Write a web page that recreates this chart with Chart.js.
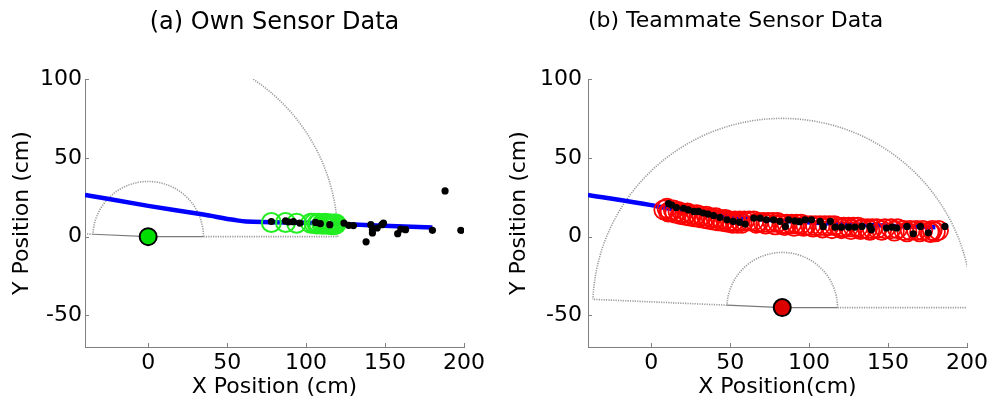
<!DOCTYPE html>
<html lang="en">
<head>
<meta charset="UTF-8">
<title>Own vs Teammate Sensor Data</title>
<script src="https://cdn.jsdelivr.net/npm/chart.js"></script>
<style>
  html, body { margin: 0; padding: 0; background: #fff; }
  canvas { position: absolute; top: 0; }
  #ownChart { left: 0; }
  #teamChart { left: 497px; }
</style>
</head>
<body>
<canvas id="ownChart" width="496" height="406"></canvas>
<canvas id="teamChart" width="496" height="406"></canvas>
<script>
// axis ticks
const xTicks = [0, 50, 100, 150, 200];
const yTicks = [-50, 0, 50, 100];

// sensor field of view (cm, degrees)
const innerRange = 35;
const outerRange = 120;
const fovAngles = [0, 177.5];

// (a) own sensor
const ownRobot = [0, 0];
const ownPathX = [-40, 0, 35, 55, 62, 100, 140, 180];
const ownPathY = [26.5, 19.5, 14, 10.5, 9.6, 8.8, 7.2, 5.8];
const ownObsX = [78, 87, 94, 103, 105, 107, 108, 110, 111, 112, 113, 114, 115, 116, 117, 118, 119];
const ownObsY = [9, 9, 8.5, 8.5, 8.5, 8, 8.5, 8, 8, 8.5, 8, 8, 8, 8, 7.5, 8, 8];
const ownDotX = [78, 87, 89, 92, 96, 106, 109, 115, 124, 127, 130, 138, 141, 142, 142, 145, 148, 149, 158, 160, 163, 180, 188, 198];
const ownDotY = [9.6, 10, 9.3, 9.5, 8.6, 9, 8.2, 7.6, 8.6, 7.2, 7, -3.3, 7.6, 4.4, 2.3, 5.5, 7.6, 8.6, 1.9, 4.8, 4.4, 4, 29, 4];

// (b) teammate sensor
const teamRobot = [83, -45];
const teamPathX = [-40, 0, 10, 70, 120, 180];
const teamPathY = [26.5, 20, 18, 11, 8, 6];
const teamObsX = [8, 10, 12, 14, 17, 20, 23, 26, 29, 32, 35, 38, 41, 44, 47, 50, 53, 56, 59, 62, 65, 68, 71, 74, 77, 80, 83, 86, 89, 92, 95, 98, 101, 104, 107, 110, 113, 116, 119, 122, 125, 128, 131, 134, 137, 140, 143, 148, 152, 156, 160, 164, 168, 172, 176, 178, 180, 182,
                  11, 15, 18.5, 21.5, 24.5, 27.5, 30.5, 33.5, 36.5, 39.5, 42.5, 45.5, 48.5, 51.5, 54.5, 57.5, 66.5, 72.5, 78.5, 84.5, 90.5, 96.5, 102.5, 108.5, 114.5, 120.5, 126.5, 132.5, 138.5, 146, 154, 162, 170, 177];
const teamObsY = [17, 18, 16, 17, 16, 15, 15, 14, 14, 13, 13, 12, 12, 11, 11, 10, 10, 10, 10, 10, 10, 9, 9, 9, 9, 9, 8, 8, 8, 8, 8, 7, 7, 7, 7, 7, 7, 7, 6, 6, 6, 6, 6, 5, 5, 5, 5, 5, 5, 5, 4, 4, 4, 4, 3, 4, 3, 4,
                  15.5, 15, 14, 13.5, 13, 12.5, 12, 11.5, 11, 10.5, 10, 9.5, 9, 8.5, 8.5, 8.5, 8.5, 8, 7.5, 7, 6.5, 6.5, 6, 5.5, 5, 5, 4.5, 4.5, 4, 4, 3.5, 3, 3, 2.5];
const teamDotX = [11, 13, 16, 20.5, 23.5, 27, 30, 33, 36, 39.5, 43.5, 48, 52, 56, 59.5, 65, 69, 73, 77.5, 81.5, 85, 87, 91, 94, 97.5, 101.5, 107, 109, 113.5, 116.5, 120.5, 125, 129, 133.5, 138.5, 139.5, 149, 152.5, 155.5, 162, 166, 170.5, 175.5, 186];
const teamDotY = [21, 20, 18.5, 18, 17, 16, 16, 15, 14.3, 13.4, 12.2, 10.7, 9.7, 9.2, 8, 11.8, 11.8, 10.7, 10.7, 9.7, 6.5, 10.7, 10, 9.5, 10.7, 10.7, 9.7, 6.5, 9.7, 6, 6, 6, 6, 6.5, 6.5, 4.4, 5.5, 6, 5.5, 6.5, 1.8, 6.5, 2.4, 6.5];

const FONT = '"DejaVu Sans", sans-serif';
const AXIS_GREY = '#808080';

const pts = (xs, ys) => xs.map((x, i) => ({ x: x, y: ys[i] }));
const rad = d => d * Math.PI / 180;

// sensor range arcs + MATLAB style inward ticks
const sensorPlugin = {
    id: 'sensorFov',
    beforeDatasetsDraw(chart, args, opts) {
        const { ctx, chartArea: a, scales: { x, y } } = chart;
        const [cx, cy] = opts.center;
        const px = (vx, vy) => [x.getPixelForValue(vx), y.getPixelForValue(vy)];
        const edge = (r, d) => px(cx + r * Math.cos(rad(d)), cy + r * Math.sin(rad(d)));
        const line = (p, q) => { ctx.beginPath(); ctx.moveTo(p[0], p[1]); ctx.lineTo(q[0], q[1]); ctx.stroke(); };
        const c = px(cx, cy);

        ctx.save();
        ctx.beginPath();
        ctx.rect(a.left, a.top, a.right - a.left, a.bottom - a.top);
        ctx.clip();

        ctx.strokeStyle = '#7a7a7a';
        ctx.lineWidth = 1.2;
        fovAngles.forEach(d => line(c, edge(innerRange, d)));

        ctx.setLineDash([1.2, 1.2]);
        ctx.strokeStyle = '#9a9a9a';
        ctx.lineWidth = 1.6;
        fovAngles.forEach(d => line(edge(innerRange, d), edge(outerRange, d)));
        [innerRange, outerRange].forEach(r => {
            const rx = Math.abs(x.getPixelForValue(cx + r) - c[0]);
            const ry = Math.abs(y.getPixelForValue(cy + r) - c[1]);
            ctx.beginPath();
            ctx.ellipse(c[0], c[1], rx, ry, 0, -rad(fovAngles[0]), -rad(fovAngles[1]), true);
            ctx.stroke();
        });
        ctx.restore();
    },
    afterDraw(chart) {
        const { ctx, chartArea: a, scales: { x, y } } = chart;
        ctx.save();
        ctx.strokeStyle = AXIS_GREY;
        ctx.lineWidth = 1;
        ctx.beginPath();
        xTicks.forEach(v => {
            const p = Math.round(x.getPixelForValue(v)) + 0.5;
            ctx.moveTo(p, a.bottom); ctx.lineTo(p, a.bottom - 4);
        });
        yTicks.forEach(v => {
            const p = Math.round(y.getPixelForValue(v)) + 0.5;
            ctx.moveTo(a.left, p); ctx.lineTo(a.left + 4, p);
        });
        ctx.stroke();
        ctx.restore();
    }
};

function makeScales(xTitle, yWidth, yPad) {
    const tickFont = { family: FONT, size: 22 };
    return {
        x: {
            type: 'linear', min: -40, max: 200,
            afterBuildTicks: s => { s.ticks = xTicks.map(v => ({ value: v })); },
            afterFit: s => { s.height = 59; },
            grid: { display: true, drawOnChartArea: false, drawTicks: false },
            border: { color: AXIS_GREY, width: 1 },
            ticks: { color: '#000', font: tickFont, padding: 3, maxRotation: 0, autoSkip: false },
            title: { display: true, text: xTitle, color: '#000', font: tickFont, padding: { top: 0, bottom: 6 } }
        },
        y: {
            type: 'linear', min: -70, max: 100,
            afterBuildTicks: s => { s.ticks = yTicks.map(v => ({ value: v })); },
            afterFit: s => { s.width = yWidth; },
            grid: { display: true, drawOnChartArea: false, drawTicks: false },
            border: { color: AXIS_GREY, width: 1 },
            ticks: { color: '#000', font: tickFont, padding: yPad, autoSkip: false },
            title: { display: true, text: 'Y Position (cm)', color: '#000', font: tickFont, padding: { top: 9, bottom: 0 } }
        }
    };
}

function makeChart(id, cfg) {
    return new Chart(document.getElementById(id), {
        type: 'scatter',
        data: {
            datasets: [
                { data: pts(cfg.dotX, cfg.dotY), pointRadius: 3.6, pointBackgroundColor: '#000', pointBorderColor: '#000', pointBorderWidth: 0 },
                { data: [{ x: cfg.robot[0], y: cfg.robot[1] }], pointRadius: 8.5, pointBackgroundColor: cfg.robotColor, pointBorderColor: '#000', pointBorderWidth: 2 },
                { data: pts(cfg.obsX, cfg.obsY), pointRadius: cfg.obsRadius, pointBackgroundColor: 'rgba(0,0,0,0)', pointBorderColor: cfg.obsColor, pointBorderWidth: cfg.obsWidth },
                { data: pts(cfg.pathX, cfg.pathY), showLine: true, pointRadius: 0, borderColor: '#0000ff', borderWidth: 4.5, cubicInterpolationMode: 'monotone' }
            ]
        },
        options: {
            responsive: false,
            animation: false,
            layout: { padding: { right: cfg.padRight, left: 0, top: 0, bottom: 0 } },
            plugins: {
                legend: { display: false },
                tooltip: { enabled: false },
                title: {
                    display: true, fullSize: false, text: cfg.title, align: cfg.titleAlign, color: '#000',
                    font: { family: FONT, size: cfg.titleSize, weight: 'normal' },
                    padding: { top: 8, bottom: 71 - 1.2 * cfg.titleSize }
                },
                sensorFov: { center: cfg.robot }
            },
            scales: makeScales(cfg.xTitle, cfg.yWidth, cfg.yPad)
        },
        plugins: [sensorPlugin]
    });
}

makeChart('ownChart', {
    title: '(a) Own Sensor Data', titleAlign: 'center', titleSize: 24, xTitle: 'X Position (cm)',
    robot: ownRobot, robotColor: '#00dd00',
    pathX: ownPathX, pathY: ownPathY,
    obsX: ownObsX, obsY: ownObsY, obsColor: '#22ee22', obsRadius: 9.5, obsWidth: 2,
    dotX: ownDotX, dotY: ownDotY,
    yWidth: 85, yPad: 3, padRight: 32
});

makeChart('teamChart', {
    title: '(b) Teammate Sensor Data', titleAlign: 'start', titleSize: 22, xTitle: 'X Position(cm)',
    robot: teamRobot, robotColor: '#dd0000',
    pathX: teamPathX, pathY: teamPathY,
    obsX: teamObsX, obsY: teamObsY, obsColor: '#ff0000', obsRadius: 9.5, obsWidth: 1.8,
    dotX: teamDotX, dotY: teamDotY,
    yWidth: 91, yPad: 6, padRight: 26
});
</script>
</body>
</html>
